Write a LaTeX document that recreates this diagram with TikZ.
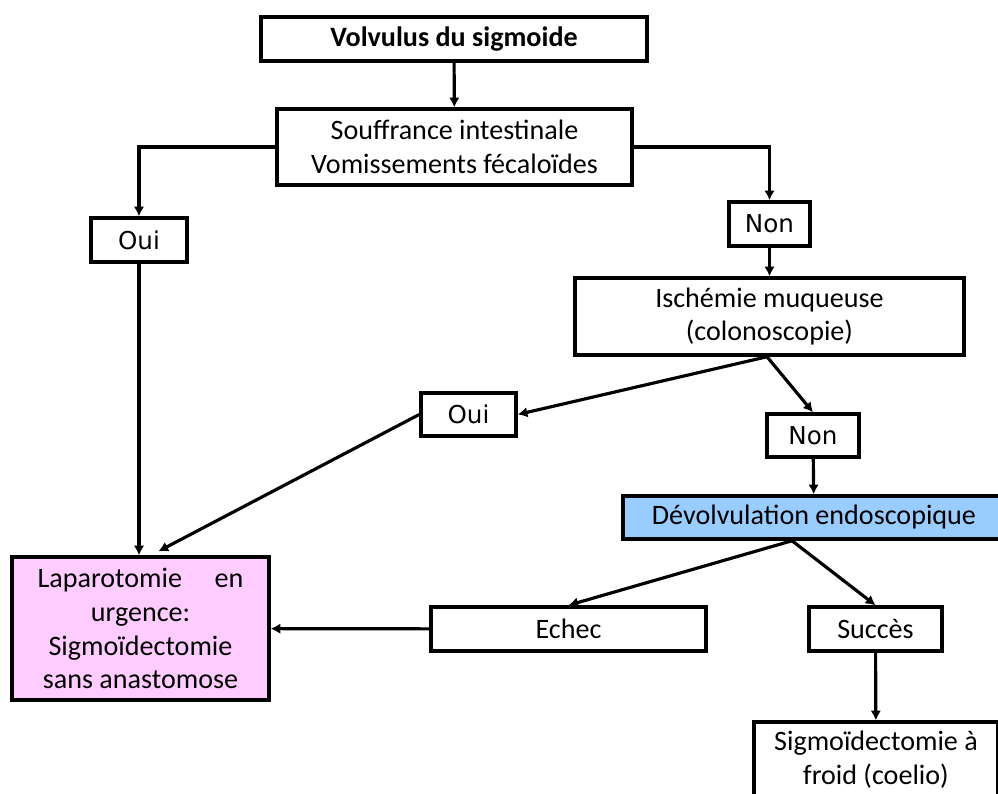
\documentclass[tikz,border=0pt]{standalone}
\usepackage{fontspec}
\usetikzlibrary{arrows.meta}
\setmainfont{Carlito}
\newfontfamily\dejavu{DejaVu Sans}
\definecolor{rosebox}{RGB}{255,204,255}
\definecolor{bleubox}{RGB}{153,204,255}
\tikzset{
    boite/.style={draw,line width=2pt,inner sep=0pt,align=center,
        font=\fontsize{16}{19.3}\selectfont},
    choix/.style={draw,line width=2pt,inner sep=0pt,align=center,
        font=\dejavu\fontsize{14}{17}\selectfont},
    fleche/.style={-{Latex[length=5.5pt,width=6pt]},line width=1.8pt}
}
\begin{document}
\begin{tikzpicture}[x=0.02cm,y=-0.02cm]
            \useasboundingbox (0,0) rectangle (998,794);
            \node[boite,minimum width=7.72cm,minimum height=0.88cm] (volv) at (454,39) {\bfseries Volvulus du sigmoide};
            \node[boite,minimum width=7.1cm,minimum height=1.52cm] (souf) at (454.5,147) {Souffrance intestinale\\Vomissements fécaloïdes};
            \node[choix,minimum width=1.92cm,minimum height=0.88cm] (ouiA) at (139,240) {Oui};
            \node[choix,minimum width=1.62cm,minimum height=0.88cm] (nonA) at (769.5,224) {Non};
            \node[boite,minimum width=7.78cm,minimum height=1.54cm] (isch) at (769.5,316.5) {Ischémie muqueuse\\(colonoscopie)};
            \node[choix,minimum width=1.9cm,minimum height=0.86cm] (ouiB) at (468.5,414.5) {Oui};
            \node[choix,minimum width=1.84cm,minimum height=0.86cm] (nonB) at (813,435.5) {Non};
            \node[boite,fill=bleubox,minimum width=7.64cm,minimum height=0.86cm] (devo) at (814,517.5) {Dévolvulation endoscopique};
            \node[boite,fill=rosebox,minimum width=5.14cm,minimum height=2.86cm] (lapa) at (140.5,628.5) {\hbox to 4.12cm{Laparotomie\hfill en}\\urgence:\\Sigmoïdectomie\\sans anastomose};
            \node[boite,minimum width=5.5cm,minimum height=0.88cm] (echec) at (568.5,629) {Echec};
            \node[boite,minimum width=2.66cm,minimum height=0.88cm] (succ) at (875.5,629) {Succès};
            \node[boite,minimum width=4.88cm,minimum height=1.52cm] (froid) at (876,760) {Sigmoïdectomie à\\froid (coelio)};
            % liaisons
            \draw[fleche] (volv) -- (souf);
            \draw[fleche] (souf.west) -| (ouiA.north);
            \draw[fleche] (souf.east) -| (nonA.north);
            \draw[fleche] (nonA) -- (isch);
            \draw[fleche] (ouiA.south) -- (ouiA.south |- lapa.north);
            \draw[fleche] ([xshift=-0.05cm]isch.south) -- (ouiB.east);
            \draw[fleche] ([xshift=-0.05cm]isch.south) -- (nonB.north);
            \draw[fleche] (ouiB.west) -- ([xshift=0.36cm,yshift=0.08cm]lapa.north);
            \draw[fleche] (nonB) -- (devo);
            \draw[fleche] ([xshift=-0.44cm]devo.south) -- (echec.north);
            \draw[fleche] ([xshift=-0.44cm]devo.south) -- (succ.north);
            \draw[fleche] (echec) -- (lapa);
            \draw[fleche] (succ) -- (froid);
        \end{tikzpicture}
\end{document}
